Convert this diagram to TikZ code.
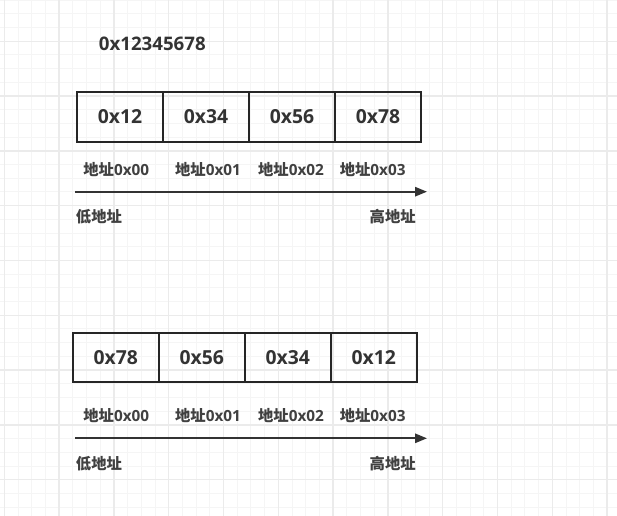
\documentclass[tikz,border=0pt]{standalone}
\usepackage{fontspec}
\setmainfont{Open Sans}
\newfontfamily\cjk{Noto Sans CJK SC}
\usetikzlibrary{positioning,arrows.meta}

\tikzset{
    minorline/.style={draw=black!4, line width=0.75pt},
    majorline/.style={draw=black!8, line width=1pt},
    cell/.style={draw=black!85, line width=1.3pt, minimum width=64.5pt,
        minimum height=37pt, inner sep=0pt, outer sep=0pt,
        font=\fontsize{14.5}{17}\selectfont\bfseries, text=black!80},
    addr/.style={inner sep=0pt, font=\fontsize{11.5}{14}\selectfont\bfseries, text=black!75},
    axis/.style={draw=black!80, line width=1.4pt, -{Triangle[length=9pt,width=7pt]}}
}

\begin{document}
\begin{tikzpicture}[x=0.75pt, y=-0.75pt]
    \useasboundingbox[fill=white] (0,0) rectangle (617,516);
    % background grid
    \foreach \i in {0,...,44} {
        \draw[minorline] ({4.3+13.7*\i},0) -- ({4.3+13.7*\i},516);
    }
    \foreach \j in {0,...,37} {
        \draw[minorline] (0,{0.2+13.7*\j}) -- (617,{0.2+13.7*\j});
    }
    \foreach \i in {0,...,11} {
        \draw[majorline] ({4.3+54.8*\i},0) -- ({4.3+54.8*\i},516);
    }
    \foreach \j in {0,...,8} {
        \draw[majorline] (0,{41.3+54.8*\j}) -- (617,{41.3+54.8*\j});
    }

    \node[anchor=west, inner sep=0pt, font=\fontsize{14}{17}\selectfont\bfseries, text=black!80]
        (word) at (98.7,44.3) {0x12345678};

    % big endian
    \node[cell] (b1) at (120,117) {0x12};
    \node[cell, right=0pt of b1] (b2) {0x34};
    \node[cell, right=0pt of b2] (b3) {0x56};
    \node[cell, right=0pt of b3] (b4) {0x78};

    \node[addr] (ba1) at (116.3,169.3) {{\cjk 地址}0x00};
    \node[addr] (ba2) at (208,169.3) {{\cjk 地址}0x01};
    \node[addr] (ba3) at (291,169.3) {{\cjk 地址}0x02};
    \node[addr] (ba4) at (372.7,169.3) {{\cjk 地址}0x03};

    \coordinate (bl) at (75,191.7);
    \coordinate (br) at (427,191.7);
    \draw[axis] (bl) -- (br);
    \node[addr, anchor=west] (blow) at (75.7,217) {\cjk 低地址};
    \node[addr, anchor=east] (bhigh) at (416,217) {\cjk 高地址};

    % little endian
    \node[cell] (s1) at (115.7,357.5) {0x78};
    \node[cell, right=0pt of s1] (s2) {0x56};
    \node[cell, right=0pt of s2] (s3) {0x34};
    \node[cell, right=0pt of s3] (s4) {0x12};

    \node[addr] (sa1) at (116.3,415.7) {{\cjk 地址}0x00};
    \node[addr] (sa2) at (208,415.7) {{\cjk 地址}0x01};
    \node[addr] (sa3) at (291,415.7) {{\cjk 地址}0x02};
    \node[addr] (sa4) at (372.7,415.7) {{\cjk 地址}0x03};

    \coordinate (sl) at (75,438.3);
    \coordinate (sr) at (427,438.3);
    \draw[axis] (sl) -- (sr);
    \node[addr, anchor=west] (slow) at (75.7,463.3) {\cjk 低地址};
    \node[addr, anchor=east] (shigh) at (416,463.3) {\cjk 高地址};
\end{tikzpicture}
\end{document}
